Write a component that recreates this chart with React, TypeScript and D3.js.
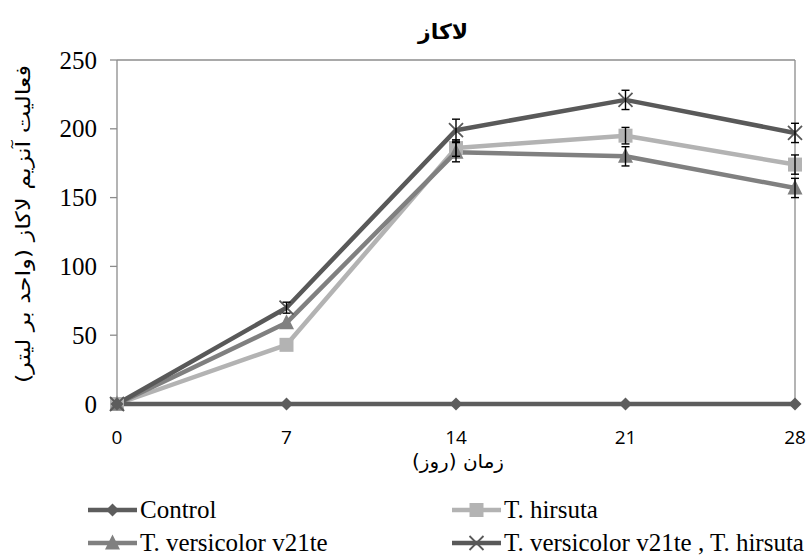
import React from "react";
import * as d3 from "d3";

const days = [0, 7, 14, 21, 28];
const yTicks = [0, 50, 100, 150, 200, 250];
const controlValues = [0, 0, 0, 0, 0];
const hirsutaValues = [0, 43, 186, 195, 174];
const hirsutaErr = [0, 0, 6, 6, 7];
const versicolorValues = [0, 59, 183, 180, 157];
const versicolorErr = [0, 0, 7, 7, 7];
const comboValues = [0, 70, 199, 221, 197];
const comboErr = [0, 4, 8, 7, 7];

const titleText = "لاکاز";
const yLabel = "فعالیت آنزیم لاکاز (واحد بر لیتر)";
const xLabel = "زمان (روز)";

type Series = { name: string; values: number[]; err: number[]; color: string; marker: string };

const series: Series[] = [
  { name: "Control", values: controlValues, err: [0, 0, 0, 0, 0], color: "#5d5d5d", marker: "diamond" },
  { name: "T. hirsuta", values: hirsutaValues, err: hirsutaErr, color: "#b3b3b3", marker: "square" },
  { name: "T. versicolor v21te", values: versicolorValues, err: versicolorErr, color: "#808080", marker: "triangle" },
  { name: "T. versicolor v21te , T. hirsuta", values: comboValues, err: comboErr, color: "#595959", marker: "x" },
];

function Marker({ type, x, y, color }: { type: string; x: number; y: number; color: string }) {
  if (type === "diamond") {
    const s = 6.5;
    return <path d={`M${x},${y - s}L${x + s},${y}L${x},${y + s}L${x - s},${y}Z`} fill={color} />;
  }
  if (type === "square") {
    const s = 7;
    return <rect x={x - s} y={y - s} width={2 * s} height={2 * s} fill={color} />;
  }
  if (type === "triangle") {
    const s = 7.5;
    return <path d={`M${x},${y - s - 1}L${x + s},${y + s - 1}L${x - s},${y + s - 1}Z`} fill={color} />;
  }
  const s = 7;
  return (
    <path
      d={`M${x - s},${y - s}L${x + s},${y + s}M${x + s},${y - s}L${x - s},${y + s}`}
      stroke={color}
      strokeWidth={1.8}
      fill="none"
    />
  );
}

export default function App() {
  const W = 809;
  const H = 556;
  const left = 117;
  const right = 795;
  const top = 60;
  const bottom = 404;
  const x = d3.scaleLinear().domain([0, 28]).range([left, right]);
  const y = d3.scaleLinear().domain([0, 250]).range([bottom, top]);
  const line = d3
    .line<number>()
    .x((_, i) => x(days[i]))
    .y((v) => y(v));
  const serif = "'Liberation Serif', 'Times New Roman', serif";
  const sans = "'Open Sans', 'DejaVu Sans', sans-serif";
  const arabic = "'DejaVu Sans', 'Noto Sans', sans-serif";

  const legendItems = [
    { s: series[0], lx: 88, ly: 510 },
    { s: series[1], lx: 452, ly: 510 },
    { s: series[2], lx: 88, ly: 543 },
    { s: series[3], lx: 452, ly: 543 },
  ];

  const drawOrder = [series[1], series[2], series[3], series[0]];

  return (
    <svg width={W} height={H} style={{ position: "absolute", left: 0, top: 0, background: "#fff" }}>
      <rect x={0} y={0} width={W} height={H} fill="#fff" />
      <text
        x={443}
        y={39}
        textAnchor="middle"
        fontFamily={arabic}
        fontWeight="bold"
        fontSize={21}
        fill="#000"
        textLength={50}
        lengthAdjust="spacingAndGlyphs"
      >
        {titleText}
      </text>
      {/* plot border */}
      <line x1={left} x2={right} y1={top} y2={top} stroke="#8c8c8c" strokeWidth={1.3} />
      <line x1={right} x2={right} y1={top} y2={bottom} stroke="#8c8c8c" strokeWidth={1.3} />
      <line x1={left} x2={left} y1={top} y2={bottom} stroke="#8c8c8c" strokeWidth={1.3} />
      <line x1={left} x2={right} y1={bottom} y2={bottom} stroke="#8c8c8c" strokeWidth={1.3} />
      {yTicks.map((t) => (
        <g key={t}>
          <line x1={left - 7} x2={left} y1={y(t)} y2={y(t)} stroke="#8c8c8c" strokeWidth={1.3} />
          <text x={97} y={y(t) + 8.5} textAnchor="end" fontFamily={serif} fontSize={25} fill="#000">
            {t}
          </text>
        </g>
      ))}
      {days.map((d) => (
        <text key={d} x={x(d)} y={444} textAnchor="middle" fontFamily={sans} fontSize={19} fill="#000">
          {d}
        </text>
      ))}
      <text
        x={458}
        y={468}
        textAnchor="middle"
        fontFamily={arabic}
        fontSize={19}
        fill="#000"
        textLength={92}
        lengthAdjust="spacingAndGlyphs"
      >
        {xLabel}
      </text>
      <text
        transform={`translate(30,224) rotate(-90)`}
        textAnchor="middle"
        fontFamily={arabic}
        fontSize={20}
        fill="#000"
        textLength={318}
        lengthAdjust="spacingAndGlyphs"
      >
        {yLabel}
      </text>
      {/* lines */}
      {drawOrder.map((s) => (
        <path key={s.name} d={line(s.values) || ""} fill="none" stroke={s.color} strokeWidth={4.5} strokeLinejoin="round" />
      ))}
      {/* markers */}
      {drawOrder.map((s) => (
        <g key={s.name + "m"}>
          {s.values.map((v, i) => (
            <Marker key={i} type={s.marker} x={x(days[i])} y={y(v)} color={s.color} />
          ))}
        </g>
      ))}
      {/* error bars */}
      {series.map((s) => (
        <g key={s.name + "e"}>
          {s.values.map((v, i) =>
            s.err[i] > 0 ? (
              <g key={i} stroke="#000" strokeWidth={1.4}>
                <line x1={x(days[i])} x2={x(days[i])} y1={y(v + s.err[i])} y2={y(v - s.err[i])} />
                <line x1={x(days[i]) - 4} x2={x(days[i]) + 4} y1={y(v + s.err[i])} y2={y(v + s.err[i])} />
                <line x1={x(days[i]) - 4} x2={x(days[i]) + 4} y1={y(v - s.err[i])} y2={y(v - s.err[i])} />
              </g>
            ) : null
          )}
        </g>
      ))}
      {/* legend */}
      {legendItems.map(({ s, lx, ly }) => (
        <g key={s.name + "l"}>
          <line x1={lx} x2={lx + 49} y1={ly} y2={ly} stroke={s.color} strokeWidth={4.5} />
          <Marker type={s.marker} x={lx + 24.5} y={ly} color={s.color} />
          <text x={lx + 52} y={ly + 8} fontFamily={serif} fontSize={25} fill="#000">
            {s.name}
          </text>
        </g>
      ))}
    </svg>
  );
}
